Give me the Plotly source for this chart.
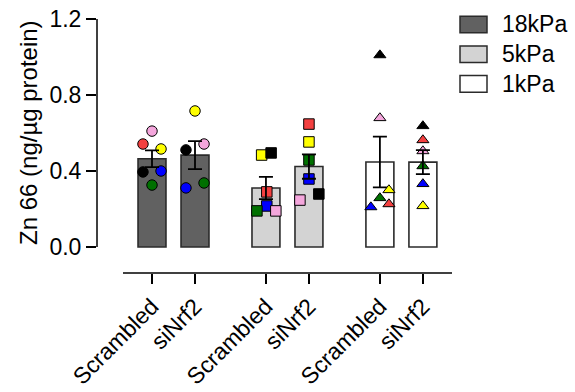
import numpy as np
import plotly.graph_objects as go

# Groups (stiffness) and conditions within each group
stiffness = ["18kPa", "5kPa", "1kPa"]
conditions = ["Scrambled", "siNrf2"]
bar_fill = ["#616161", "#d3d3d3", "#ffffff"]
symbols = ["circle", "square", "triangle-up"]

# Individual replicate colours (per biological replicate)
rep_color = {
    "red": "#f44040", "pink": "#f4a6dc", "yellow": "#ffff00",
    "black": "#000000", "blue": "#0000ff", "green": "#007000",
}

# Replicate values, Zn 66 (ng/µg protein)
kpa18_scr = {"red": 0.542, "pink": 0.610, "yellow": 0.516, "black": 0.395, "blue": 0.400, "green": 0.326}
kpa18_si = {"yellow": 0.716, "black": 0.511, "pink": 0.542, "blue": 0.311, "green": 0.337}
kpa5_scr = {"yellow": 0.484, "black": 0.495, "red": 0.290, "blue": 0.216, "green": 0.190, "pink": 0.190}
kpa5_si = {"red": 0.647, "yellow": 0.553, "green": 0.458, "blue": 0.358, "pink": 0.247, "black": 0.279}
kpa1_scr = {"black": 1.010, "pink": 0.679, "yellow": 0.300, "green": 0.258, "red": 0.226, "blue": 0.210}
kpa1_si = {"black": 0.637, "red": 0.563, "pink": 0.505, "green": 0.426, "blue": 0.332, "yellow": 0.216}

# Horizontal jitter of points within a bar (layout only)
jitter = {
    0: {"red": -0.21, "pink": 0.0, "yellow": 0.21, "black": -0.21, "blue": 0.21, "green": 0.0},
    1: {"yellow": 0.0, "black": -0.21, "pink": 0.21, "blue": -0.21, "green": 0.21},
    2: {"yellow": -0.1, "black": 0.12, "red": 0.02, "blue": 0.02, "green": -0.21, "pink": 0.23},
    3: {"red": 0.0, "yellow": 0.0, "green": 0.0, "blue": 0.0, "pink": -0.21, "black": 0.23},
    4: {"black": 0.0, "pink": 0.0, "yellow": 0.21, "green": 0.0, "red": 0.21, "blue": -0.21},
    5: {"black": 0.0, "red": 0.0, "pink": 0.0, "green": 0.0, "blue": 0.0, "yellow": 0.0},
}

series = [kpa18_scr, kpa18_si, kpa5_scr, kpa5_si, kpa1_scr, kpa1_si]
group_gap = 2.65
xpos = [g * group_gap + i for g in range(3) for i in range(2)]
labels = [c for _ in stiffness for c in conditions]

means = [np.mean(list(s.values())) for s in series]
sems = [np.std(list(s.values()), ddof=1) / np.sqrt(len(s)) for s in series]

FONT = "Liberation Sans, Arimo, Arial, sans-serif"
TXT = 23
fig = go.Figure()

# Bars (mean)
for k in range(6):
    g = k // 2
    fig.add_trace(go.Bar(
        x=[xpos[k]], y=[means[k]], width=0.65,
        marker=dict(color=bar_fill[g], line=dict(color="#2b2b2b", width=1.6)),
        showlegend=False, hoverinfo="skip",
    ))

# Replicate points
for k, s in enumerate(series):
    g = k // 2
    names = list(s.keys())
    fig.add_trace(go.Scatter(
        x=[xpos[k] + jitter[k][n] for n in names],
        y=[s[n] for n in names],
        mode="markers",
        marker=dict(symbol=symbols[g], size=10.5,
                    color=[rep_color[n] for n in names],
                    line=dict(color="#000000", width=1)),
        showlegend=False, hoverinfo="skip",
    ))

# SEM error bars on top
fig.add_trace(go.Scatter(
    x=xpos, y=means, mode="markers",
    marker=dict(size=1, opacity=0),
    error_y=dict(type="data", array=sems, visible=True,
                 color="#000000", thickness=1.8, width=7),
    showlegend=False, hoverinfo="skip",
))

L, R, T, B = 97, 452, 19, 273
W, H = 575, 392
pw, ph = R - L, B - T
px = lambda v: (v - L) / pw
py = lambda v: (B - v) / ph

shapes = [
    # y axis line (0 to 1.2)
    dict(type="line", xref="paper", yref="y", x0=0, x1=0, y0=0, y1=1.2,
         line=dict(color="#000000", width=1.5)),
    # x axis line
    dict(type="line", xref="paper", yref="paper", x0=px(123), x1=px(452), y0=0, y1=0,
         line=dict(color="#000000", width=1.5)),
]
annotations = [
    dict(text="Zn 66 (ng/µg protein)", xref="paper", yref="y", x=px(28), y=0.6,
         textangle=-90, showarrow=False, xanchor="center", yanchor="middle",
         font=dict(family=FONT, size=24, color="#000000")),
]

# Legend drawn as swatches + labels
for g, name in enumerate(stiffness):
    cy = 24.5 + g * 29.7
    shapes.append(dict(type="rect", xref="paper", yref="paper",
                       x0=px(460), x1=px(487), y0=py(cy - 8.3), y1=py(cy + 8.3),
                       fillcolor=bar_fill[g], line=dict(color="#2b2b2b", width=1.5)))
    annotations.append(dict(text=name, xref="paper", yref="paper", x=px(500), y=py(cy),
                            showarrow=False, xanchor="left", yanchor="middle",
                            font=dict(family=FONT, size=TXT, color="#000000")))

fig.update_layout(
    template="none",
    width=W, height=H,
    margin=dict(l=L, r=W - R, t=T, b=H - B, pad=0, autoexpand=False),
    plot_bgcolor="#ffffff", paper_bgcolor="#ffffff",
    barmode="overlay",
    font=dict(family=FONT, size=TXT, color="#000000"),
    shapes=shapes, annotations=annotations,
    xaxis=dict(
        automargin=False,
        range=[(L - 152) / 43, (R - 152) / 43],
        tickmode="array", tickvals=xpos, ticktext=labels,
        tickangle=-45, ticks="outside", ticklen=10, tickwidth=1.5, tickcolor="#000000",
        showline=False, showgrid=False, zeroline=False,
        tickfont=dict(family=FONT, size=TXT),
    ),
    yaxis=dict(
        automargin=False,
        range=[-26 / 190, 1.2],
        tickmode="array", tickvals=[0, 0.4, 0.8, 1.2],
        ticktext=["0.0", "0.4", "0.8", "1.2"],
        ticks="outside", ticklen=10, tickwidth=1.5, tickcolor="#000000",
        showline=False, showgrid=False, zeroline=False,
        tickfont=dict(family=FONT, size=TXT),
    ),
)

fig.write_html("out.html")
